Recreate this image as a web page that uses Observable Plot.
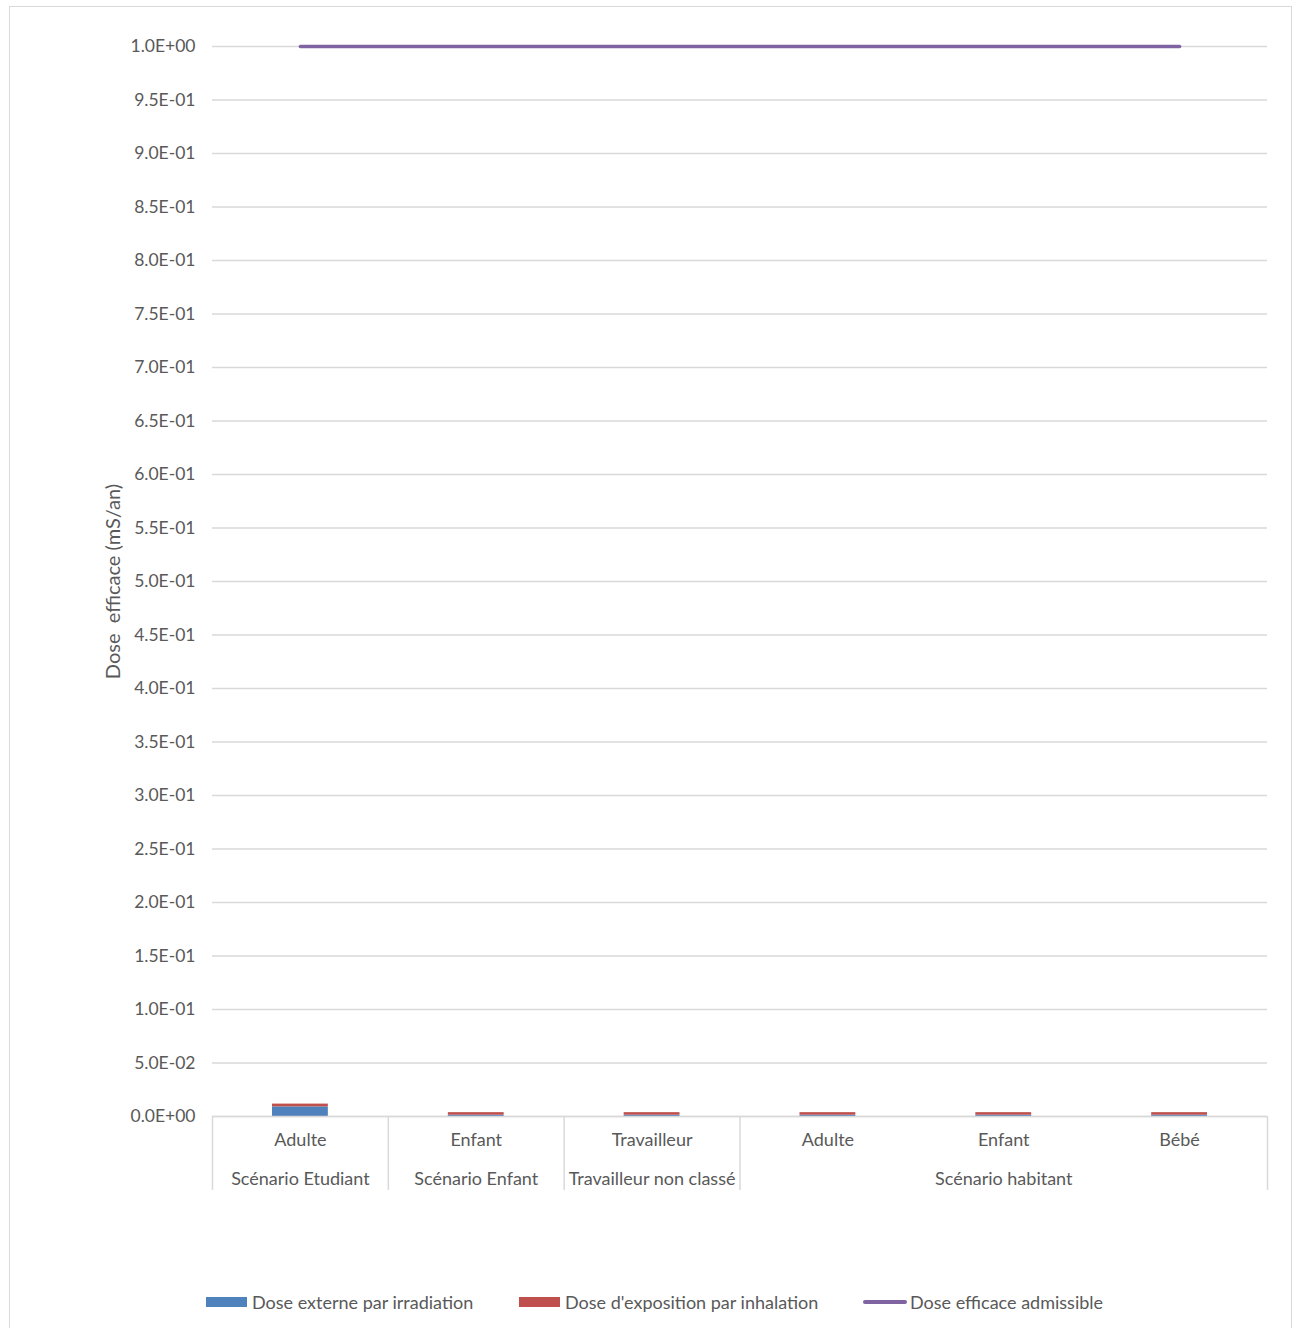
<!DOCTYPE html>
<html>
<head>
<meta charset="utf-8">
<script src="https://cdn.jsdelivr.net/npm/d3@7"></script>
<script src="https://cdn.jsdelivr.net/npm/@observablehq/plot@0.6"></script>
<style>
  html, body { margin: 0; padding: 0; background: #fff; }
  body { width: 1298px; height: 1328px; position: relative; overflow: hidden; font-family: Lato, "Open Sans", sans-serif; }
  #frame { position: absolute; left: 9px; top: 6px; width: 1283px; height: 1340px; border: 1.5px solid #d9d9d9; box-sizing: border-box; }
  #chart { position: absolute; left: 0; top: 0; }
  #legend { position: absolute; top: 1292px; left: 0; width: 1298px; height: 22px; font-size: 18px; color: #595959; }
  .item { position: absolute; display: flex; align-items: center; height: 20px; white-space: nowrap; }
  .sw { display: inline-block; width: 41px; height: 10px; margin-right: 5px; }
  .ln { display: inline-block; width: 44px; height: 3.5px; margin-right: 3px; border-radius: 2px; }
</style>
</head>
<body>
<div id="frame"></div>
<div id="chart"></div>
<div id="legend"></div>
<script>
// ---- data ----
const groups = ["Scénario Etudiant", "Scénario Enfant", "Travailleur non classé", "Scénario habitant", "Scénario habitant", "Scénario habitant"];
const subs = ["Adulte", "Enfant", "Travailleur", "Adulte", "Enfant", "Bébé"];
const doseExterne = [0.0090, 0.0012, 0.0012, 0.0012, 0.0012, 0.0012];
const doseInhalation = [0.0026, 0.0024, 0.0024, 0.0024, 0.0024, 0.0024];
const doseAdmissible = [1, 1, 1, 1, 1, 1];
const yTicks = d3.range(0, 21).map(i => i * 0.05);
const seriesNames = ["Dose externe par irradiation", "Dose d'exposition par inhalation", "Dose efficace admissible"];
const colors = ["#4f81bd", "#c0504d", "#8064a2"];

// ---- build tables ----
const keys = subs.map((s, i) => i + "|" + groups[i] + "|" + s);
const bars = [];
keys.forEach((k, i) => {
  bars.push({key: k, series: seriesNames[0], value: doseExterne[i]});
  bars.push({key: k, series: seriesNames[1], value: doseInhalation[i]});
});
const lineData = keys.map((k, i) => ({key: k, value: doseAdmissible[i]}));
const groupLabels = [];
const uniq = [...new Set(groups)];
uniq.forEach(g => {
  const idx = groups.map((x, i) => x === g ? i : -1).filter(i => i >= 0);
  groupLabels.push({key: keys[idx[Math.floor(idx.length / 2)]], label: g});
});
const leftEdges = uniq.map(g => keys[groups.indexOf(g)]);
const rightEdge = [keys[keys.length - 1]];

const W = 1298, H = 1230;
const mL = 212, mR = 31, mT = 46, mB = 114;
const step = (W - mL - mR) / keys.length;
const fmt = v => {
  const [m, e] = v.toExponential(1).split("e");
  const sign = e[0] === "-" ? "-" : "+";
  const ex = String(Math.abs(+e)).padStart(2, "0");
  return m + "E" + sign + ex;
};
const txt = "#595959";
const grid = "#d9d9d9";

const chart = Plot.plot({
  width: W, height: H,
  marginLeft: mL, marginRight: mR, marginTop: mT, marginBottom: mB,
  style: {fontFamily: "Lato, 'Open Sans', sans-serif", fontSize: "18px", color: txt, background: "transparent"},
  x: {domain: keys, padding: 0, round: false, axis: null},
  y: {domain: [0, 1], axis: null},
  color: {domain: seriesNames, range: colors},
  marks: [
    Plot.gridY(yTicks, {stroke: grid, strokeOpacity: 1, strokeWidth: 1.3}),
    Plot.axisY(yTicks, {tickSize: 0, tickPadding: 17, tickFormat: fmt, fontSize: 17.5, fill: txt, label: null}),
    Plot.barY(bars, {x: "key", y: "value", fill: "series", insetLeft: 60, insetRight: 60}),
    Plot.lineY(lineData, {x: "key", y: "value", stroke: colors[2], strokeWidth: 3.5}),
    Plot.ruleY([0], {stroke: grid, strokeWidth: 1.5}),
    Plot.axisX(keys, {tickSize: 0, tickPadding: 17, tickFormat: k => k.split("|")[2], fontSize: 18, fill: txt, label: null}),
    Plot.axisX(leftEdges, {tickSize: 74, dx: -step / 2, tickFormat: () => "", stroke: grid, strokeWidth: 1.5, label: null}),
    Plot.axisX(rightEdge, {tickSize: 74, dx: step / 2, tickFormat: () => "", stroke: grid, strokeWidth: 1.5, label: null}),
    Plot.text(groupLabels, {x: "key", text: "label", frameAnchor: "bottom", dy: 63, fontSize: 18, fill: txt, lineAnchor: "middle"}),
    Plot.text(["Dose  efficace (mS/an)"], {frameAnchor: "left", dx: -99, rotate: -90, fontSize: 20, fill: txt, textAnchor: "middle", lineAnchor: "middle", text: d => d})
  ]
});
document.getElementById("chart").appendChild(chart);

// ---- legend ----
const legend = document.getElementById("legend");
const pos = [206, 519, 863];
seriesNames.forEach((n, i) => {
  const it = document.createElement("div");
  it.className = "item";
  it.style.left = pos[i] + "px";
  const sw = document.createElement("span");
  sw.className = i < 2 ? "sw" : "ln";
  sw.style.background = colors[i];
  it.appendChild(sw);
  it.appendChild(document.createTextNode(n));
  legend.appendChild(it);
});
</script>
</body>
</html>
